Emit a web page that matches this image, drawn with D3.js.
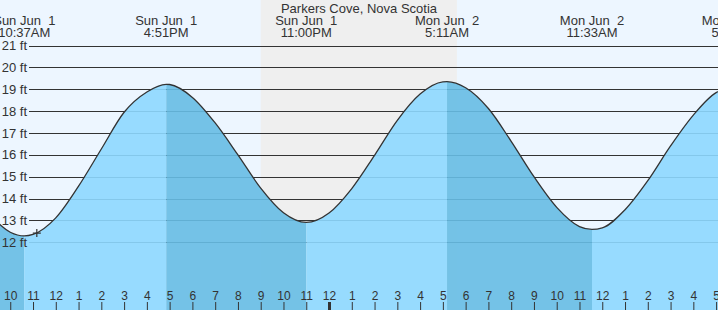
<!DOCTYPE html>
<html>
<head>
<meta charset="utf-8">
<script src="https://cdn.jsdelivr.net/npm/d3@7"></script>
<style>
    html, body { margin: 0; padding: 0; background: #fff; }
    svg { display: block; font-family: "Liberation Sans", Arial, sans-serif; }
</style>
</head>
<body>
<svg id="tide_svg"></svg>
<script>
(function() {
    'use strict';

    var width = 718,
        height = 310;

    var title = "Parkers Cove, Nova Scotia";

    // high / low tides
    var tideTimes = ["2025-06-01T10:37", "2025-06-01T16:51", "2025-06-01T23:00",
                     "2025-06-02T05:11", "2025-06-02T11:33", "2025-06-02T17:47"];
    var tideFeet = [12.29, 19.23, 12.91, 19.35, 12.59, 19.08];

    // hourly heights, from 9AM Sunday
    var hourlyStart = "2025-06-01T09:00";
    var hourlyFeet = [13.37, 12.46, 12.36, 13.12, 14.57, 16.27, 17.95, 18.88, 19.22, 18.63,
                      17.46, 16.00, 14.48, 13.35, 12.91, 13.34, 14.46, 15.98, 17.58, 18.78,
                      19.34, 19.07, 18.12, 16.62, 15.00, 13.60, 12.72, 12.66, 13.49, 14.82,
                      16.41, 17.82, 18.85];

    var feetTicks = [12, 13, 14, 15, 16, 17, 18, 19, 20, 21];

    var viewStart = "2025-06-01T09:33",
        viewEnd = "2025-06-02T17:05";
    var nightStart = "2025-06-01T21:00",
        nightEnd = "2025-06-02T05:37";
    var nowTime = "2025-06-01T11:10",
        nowFeet = 12.42;

    var parse = d3.timeParse("%Y-%m-%dT%H:%M");

    var tides = tideTimes.map(function(t, i) {
        return {time: parse(t), feet: tideFeet[i]};
    });
    var hourly = hourlyFeet.map(function(f, i) {
        return {time: d3.timeHour.offset(parse(hourlyStart), i), feet: f};
    });
    var points = tides.concat(hourly.filter(function(h) {
        return !tides.some(function(t) { return +t.time === +h.time; });
    })).sort(function(a, b) { return a.time - b.time; });

    var x = d3.scaleTime()
        .domain([parse(viewStart), parse(viewEnd)])
        .range([0, width]);
    var y = d3.scaleLinear()
        .domain([12, 21])
        .range([242.3, 45.6]);

    var svg = d3.select("#tide_svg")
        .attr("width", width)
        .attr("height", height);

    svg.append("rect")
        .attr("width", width)
        .attr("height", height)
        .attr("fill", "#edf6ff");

    svg.append("rect")
        .attr("x", x(parse(nightStart)))
        .attr("width", x(parse(nightEnd)) - x(parse(nightStart)))
        .attr("height", height)
        .attr("fill", "#efefef");

    // gridlines
    svg.append("g").selectAll("line")
        .data(feetTicks)
        .enter().append("line")
        .attr("x1", 29)
        .attr("x2", width)
        .attr("y1", function(d) { return Math.round(y(d)) + 0.5; })
        .attr("y2", function(d) { return Math.round(y(d)) + 0.5; })
        .attr("stroke", "#333")
        .attr("stroke-width", 1);

    var area = d3.area()
        .curve(d3.curveMonotoneX)
        .x(function(d) { return x(d.time); })
        .y0(height)
        .y1(function(d) { return y(d.feet); });
    var line = d3.line()
        .curve(d3.curveMonotoneX)
        .x(function(d) { return x(d.time); })
        .y(function(d) { return y(d.feet); });

    svg.append("clipPath")
        .attr("id", "water")
        .append("path")
        .attr("d", area(points));

    // rising tide light, falling tide dark
    var edges = [x.domain()[0]].concat(tides.map(function(t) { return t.time; }));
    var bands = [];
    for (var i = 0; i < edges.length; i++) {
        var end = i < tides.length ? tides[i].time : x.domain()[1];
        var falling = i < tides.length ? tides[i].feet < 16 : true;
        bands.push({start: edges[i], end: end, falling: falling});
    }
    svg.append("g")
        .attr("clip-path", "url(#water)")
        .selectAll("rect")
        .data(bands)
        .enter().append("rect")
        .attr("x", function(d) { return x(d.start); })
        .attr("width", function(d) { return x(d.end) - x(d.start); })
        .attr("y", 0)
        .attr("height", height)
        .attr("fill", function(d) { return d.falling ? "#66bde4" : "#8dd8ff"; })
        .attr("fill-opacity", 0.9);

    svg.append("path")
        .attr("d", line(points))
        .attr("fill", "none")
        .attr("stroke", "#333")
        .attr("stroke-width", 1.3);

    // current time marker
    var nx = x(parse(nowTime)), ny = y(nowFeet);
    svg.append("path")
        .attr("d", "M" + (nx - 4) + "," + ny + "H" + (nx + 4) + "M" + nx + "," + (ny - 4) + "V" + (ny + 4))
        .attr("stroke", "#333")
        .attr("stroke-width", 1.2);

    // feet labels
    svg.append("g").selectAll("text")
        .data(feetTicks)
        .enter().append("text")
        .attr("x", 27)
        .attr("y", function(d) { return y(d) + 4.5; })
        .attr("text-anchor", "end")
        .attr("font-size", 13)
        .attr("fill", "#333")
        .text(function(d) { return d + " ft"; });

    svg.append("text")
        .attr("x", width / 2)
        .attr("y", 12.5)
        .attr("text-anchor", "middle")
        .attr("font-size", 13)
        .attr("fill", "#333")
        .text(title);

    // %e pads the day with a space; keep it visible
    var fmtDay = d3.timeFormat("%a %b %e"),
        fmtTime = d3.timeFormat("%-I:%M%p");
    var labels = svg.append("g").selectAll("g")
        .data(tides)
        .enter().append("g")
        .attr("transform", function(d) { return "translate(" + x(d.time) + ",0)"; })
        .attr("font-size", 13)
        .attr("fill", "#333")
        .attr("text-anchor", "middle");
    labels.append("text")
        .attr("y", 24.5)
        .text(function(d) { return fmtDay(d.time).replace(/ /g, "\u00a0"); });
    labels.append("text")
        .attr("y", 36.5)
        .text(function(d) { return fmtTime(d.time); });

    // hour axis along the bottom
    var hourAxis = d3.axisTop(x)
        .ticks(d3.timeHour.every(1))
        .tickFormat(d3.timeFormat("%-I"))
        .tickSize(8)
        .tickPadding(2);
    var ax = svg.append("g")
        .attr("transform", "translate(0," + height + ")")
        .call(hourAxis);
    ax.select(".domain").remove();
    ax.selectAll("text")
        .attr("font-size", 12)
        .attr("font-family", "'Liberation Sans', Arial, sans-serif")
        .attr("fill", "#333");
    ax.selectAll("line")
        .attr("stroke", "#333")
        .attr("stroke-width", function(d) { return d.getHours() === 0 ? 3 : 1; });
})();
</script>
</body>
</html>
